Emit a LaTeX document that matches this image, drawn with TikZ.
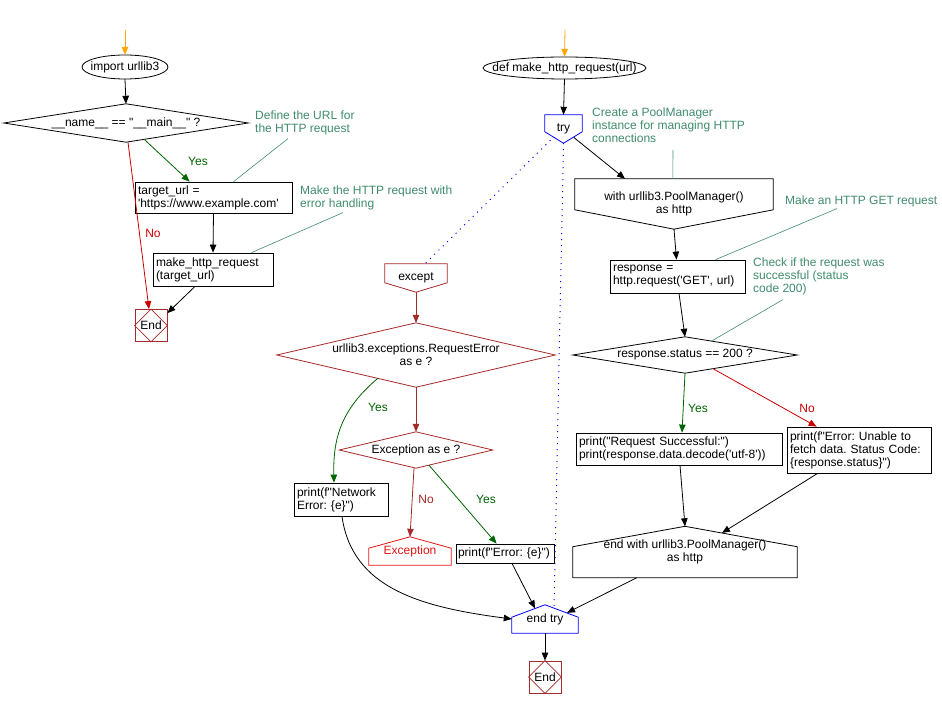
\documentclass[tikz,border=0pt]{standalone}
\usepackage{fontspec}
\setmainfont{Liberation Sans}[Ligatures=TeXOff]
\usetikzlibrary{arrows.meta,positioning,calc}
\definecolor{cmtgreen}{RGB}{64,140,110}
\definecolor{yesgreen}{RGB}{0,100,0}
\definecolor{nored}{RGB}{204,0,0}
\definecolor{endred}{RGB}{165,42,42}
\definecolor{excred}{RGB}{230,20,20}
\definecolor{startorange}{RGB}{255,165,0}
\frenchspacing
\tikzset{
  every node/.style={font=\fontsize{12}{13}\selectfont, inner sep=0pt},
  flow/.style={line width=0.8pt, -{Triangle[length=8pt,width=6.5pt]}},
  outline/.style={line width=0.8pt},
  proc/.style={draw, line width=0.8pt, align=left, inner xsep=3pt},
  shp/.style={align=center},
  cmt/.style={text=cmtgreen, align=left, anchor=north west},
  cmtline/.style={cmtgreen, line width=0.6pt},
  endbox/.style={draw=endred, line width=0.8pt, minimum width=32pt, minimum height=32pt},
  dots/.style={blue, line width=1pt, dash pattern=on 1pt off 5pt},
}
\begin{document}
\begin{tikzpicture}[x=1pt,y=-1pt]
	\fill[white] (0,0) rectangle (942,708);
	\useasboundingbox (0,0) rectangle (942,708);
	% main program
	\coordinate (s1) at (125,30);
	\node[shp, minimum width=86pt, minimum height=24pt] (imp) at (125,67) {import urllib3};
	\draw[outline] (imp.center) ellipse [x radius=43pt, y radius=12pt];
	\node[shp, minimum width=244pt, minimum height=38pt] (main) at (126,123) {\_\_name\_\_ == "\_\_main\_\_" ?};
	\draw[outline] (main.west) -- (main.north) -- (main.east) -- (main.south) -- cycle;
	\node[proc, text width=151pt, minimum height=31pt] (url) at (213.5,197.5) {target\_url =\\'https://www.example.com'};
	\node[proc, text width=114pt, minimum height=33pt] (call) at (213,269.5) {make\_http\_request\\(target\_url)};
	\node[endbox] (end1) at (151,325.5) {End};
	\draw[endred, outline] (end1.north) -- (end1.east) -- (end1.south) -- (end1.west) -- cycle;
	\node[cmt] (c1) at (255,111) {Define the URL for\\the HTTP request};
	\node[cmt] (c2) at (300,186) {Make the HTTP request with\\error handling};
	\node[text=yesgreen] (y1) at (198,161) {Yes};
	\node[text=nored] (n1) at (153,233) {No};

	\draw[flow, startorange] (s1) -- (imp.north);
	\draw[flow] (imp.south) -- (main.north);
	\draw[flow, yesgreen] ($(main.south)+(18,-3)$) -- ($(url.north west)+(55,0)$);
	\draw[flow, nored] ($(main.south)+(2,0)$) -- ($(end1.north)+(-2,0)$);
	\draw[flow] (url.south) -- (call.north);
	\draw[flow] ($(call.south)+(-18,0)$) -- ($(end1.north east)+(0,4)$);
	\draw[cmtline] ($(c1.south west)+(33,3)$) -- ($(url.north west)+(99,0)$);
	\draw[cmtline] ($(c2.south west)+(43,2)$) -- ($(call.north west)+(99,0)$);

	% function
	\coordinate (s2) at (565,30);
	\node[shp, minimum width=163pt, minimum height=22pt] (def) at (564.5,68) {def make\_http\_request(url)};
	\draw[outline] (def.center) ellipse [x radius=81.5pt, y radius=11pt];
	\node[shp, minimum width=37pt, minimum height=28pt] (try) at (563.5,129) {try};
	\draw[blue, outline] (try.north west) -- (try.north east) -- ($(try.north east)+(0,17)$) -- (try.south) -- ($(try.north west)+(0,17)$) -- cycle;
	\node[shp, minimum width=198pt, minimum height=50pt] (with) at (674,204) {with urllib3.PoolManager()\\as http};
	\draw[outline] (with.north west) -- (with.north east) -- ($(with.north east)+(0,31)$) -- (with.south) -- ($(with.north west)+(0,31)$) -- cycle;
	\node[proc, text width=129pt, minimum height=33pt] (resp) at (677.5,276.5) {response =\\http.request('GET', url)};
	\node[shp, minimum width=224pt, minimum height=36pt] (status) at (685,355) {response.status == 200 ?};
	\draw[outline] (status.west) -- (status.north) -- (status.east) -- (status.south) -- cycle;
	\node[proc, text width=200pt, minimum height=32pt] (succ) at (679,449) {print("Request Successful:")\\print(response.data.decode('utf-8'))};
	\node[proc, text width=138pt, minimum height=46pt] (fail) at (859,450) {print(f"Error: Unable to\\fetch data. Status Code:\\\{response.status\}")};
	\node[shp, minimum width=224pt, minimum height=51pt] (endwith) at (685,552) {end with urllib3.PoolManager()\\as http};
	\draw[outline] (endwith.north) -- ($(endwith.south east)+(0,-31)$) -- (endwith.south east) -- (endwith.south west) -- ($(endwith.south west)+(0,-31)$) -- cycle;

	% except branch
	\node[shp, minimum width=62pt, minimum height=28pt] (except) at (416,278) {except};
	\draw[endred, outline] (except.north west) -- (except.north east) -- ($(except.north east)+(0,19)$) -- (except.south) -- ($(except.north west)+(0,19)$) -- cycle;
	\node[shp, minimum width=278pt, minimum height=64pt] (reqerr) at (416,355) {urllib3.exceptions.RequestError\\as e ?};
	\draw[endred, outline] (reqerr.west) -- (reqerr.north) -- (reqerr.east) -- (reqerr.south) -- cycle;
	\node[shp, minimum width=153pt, minimum height=36pt] (exc) at (416,450) {Exception as e ?};
	\draw[endred, outline] (exc.west) -- (exc.north) -- (exc.east) -- (exc.south) -- cycle;
	\node[proc, text width=88pt, minimum height=33pt] (net) at (341,499.5) {print(f"Network\\Error: \{e\}")};
	\node[shp, text=excred, minimum width=82pt, minimum height=28pt] (excp) at (410,551) {Exception};
	\draw[excred, outline] (excp.north) -- ($(excp.south east)+(0,-17)$) -- (excp.south east) -- (excp.south west) -- ($(excp.south west)+(0,-17)$) -- cycle;
	\node[proc, text width=94pt, inner xsep=2pt, minimum height=19pt] (err) at (505,553.5) {print(f"Error: \{e\}")};
	\node[shp, minimum width=66pt, minimum height=28pt] (endtry) at (545,619) {end try};
	\draw[blue, outline] (endtry.north) -- ($(endtry.south east)+(0,-16)$) -- (endtry.south east) -- (endtry.south west) -- ($(endtry.south west)+(0,-16)$) -- cycle;
	\node[endbox] (end2) at (545,677) {End};
	\draw[endred, outline] (end2.north) -- (end2.east) -- (end2.south) -- (end2.west) -- cycle;

	\node[cmt] (c3) at (592,108) {Create a PoolManager\\instance for managing HTTP\\connections};
	\node[cmt] (c4) at (785,196) {Make an HTTP GET request};
	\node[cmt] (c5) at (753,258) {Check if the request was\\successful (status\\code 200)};
	\node[text=yesgreen] (y2) at (698,408) {Yes};
	\node[text=nored] (n2) at (807,408) {No};
	\node[text=yesgreen] (y3) at (378,407) {Yes};
	\node[text=endred] (n3) at (426,499) {No};
	\node[text=yesgreen] (y4) at (486,499) {Yes};

	\draw[flow, startorange] (s2) -- (def.north);
	\draw[flow] (def.south) -- (try.north);
	\draw[flow] ($(try.south)+(10,-6)$) -- ($(with.north)+(-49,0)$);
	\draw[flow] (with.south) -- ($(resp.north)+(-1,0)$);
	\draw[flow] ($(resp.south)+(1.5,0)$) -- (status.north);
	\draw[flow, yesgreen] (status.south) -- ($(succ.north)+(3,0)$);
	\draw[flow, nored] ($(status.south)+(28,-4.5)$) -- ($(fail.north west)+(30,0)$);
	\draw[flow] ($(succ.south)+(1,0)$) -- (endwith.north);
	\draw[flow] ($(fail.south west)+(31,0)$) -- ($(endwith.north)+(37,6.6)$);
	\draw[flow] ($(endwith.south west)+(64,0)$) -- ($(endtry.north)+(22,8)$);
	\draw[flow, endred] (except.south) -- (reqerr.north);
	\draw[flow, endred] (reqerr.south) -- (exc.north);
	\draw[flow, yesgreen] ($(reqerr.south)+(-38,-9)$) .. controls (340,410) and (333,440) .. ($(net.north)+(-7,0)$);
	\draw[flow, endred] ($(exc.south)+(-2,0)$) -- (excp.north);
	\draw[flow, yesgreen] ($(exc.south)+(13,-3)$) -- ($(err.north west)+(41,0)$);
	\draw[flow] ($(net.south)+(1,0)$) .. controls (352,588) and (420,607) .. (endtry.west);
	\draw[flow] ($(err.south)+(7,0)$) -- ($(endtry.north)+(-10,3.6)$);
	\draw[flow] (endtry.south) -- (end2.north);
	\draw[dots] ($(try.south)+(-13,-3)$) -- ($(except.north)+(9,0)$);
	\draw[dots] (try.south) -- ($(endtry.north)+(9,3)$);
	\draw[cmtline] ($(c3.south west)+(81,7)$) -- ($(with.north west)+(98,0)$);
	\draw[cmtline] ($(c4.south west)+(52,1)$) -- ($(resp.north west)+(106,0)$);
	\draw[cmtline] ($(c5.south west)+(30,4)$) -- ($(status.north)+(27,4)$);
\end{tikzpicture}
\end{document}
